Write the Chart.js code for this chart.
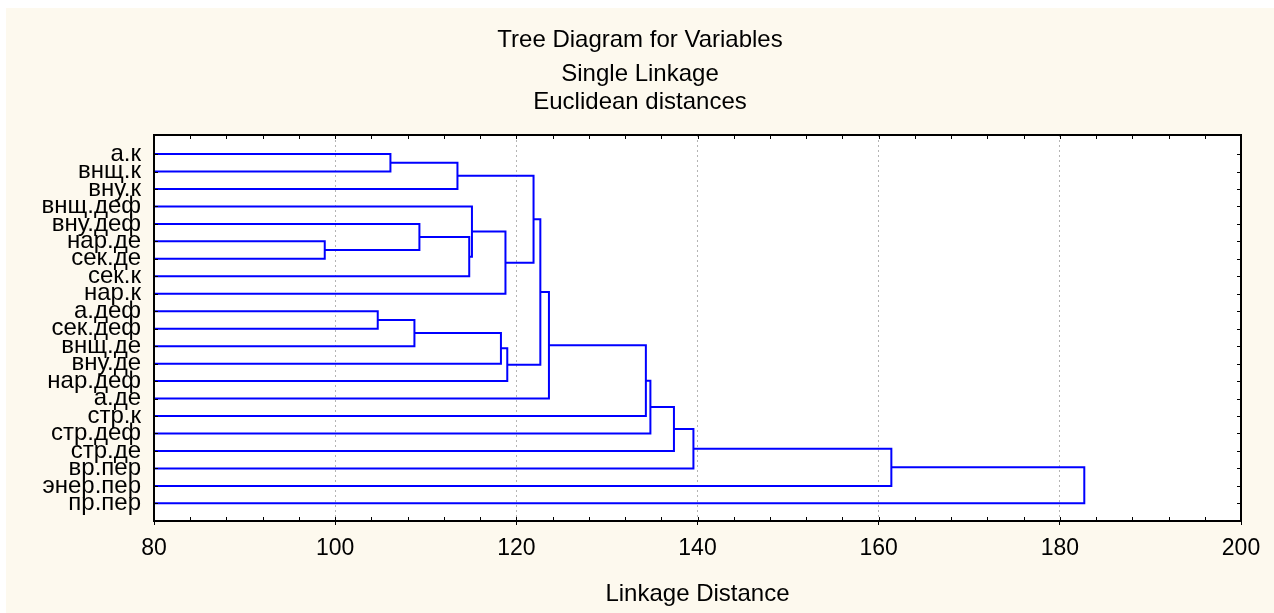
<!DOCTYPE html>
<html>
<head>
<meta charset="utf-8">
<script src="https://cdn.jsdelivr.net/npm/chart.js@4.4.1/dist/chart.umd.min.js"></script>
<style>
  html, body { margin: 0; padding: 0; background: #fff; }
</style>
</head>
<body>
<canvas id="treeChart" width="1274" height="613"></canvas>
<script>
// leaves, top to bottom
const leafLabels = ['а.к', 'внщ.к', 'вну.к', 'внщ.деф', 'вну.деф', 'нар.де', 'сек.де', 'сек.к', 'нар.к',
  'а.деф', 'сек.деф', 'внщ.де', 'вну.де', 'нар.деф', 'а.де', 'стр.к', 'стр.деф', 'стр.де',
  'вр.пер', 'энер.пер', 'пр.пер'];

// merge steps: ids < 21 are leaves, step k makes cluster id 21 + k
const mergeLeft   = [0, 21, 5, 4, 24, 3, 26, 22, 9, 29, 30, 31, 28, 33, 34, 35, 36, 37, 38, 39];
const mergeRight  = [1, 2, 6, 23, 7, 25, 8, 27, 10, 11, 12, 13, 32, 14, 15, 16, 17, 18, 19, 20];
const mergeHeight = [106.1, 113.5, 98.85, 109.3, 114.8, 115.1, 118.8, 121.9, 104.7, 108.75,
  118.3, 119.0, 122.65, 123.6, 134.3, 134.8, 137.4, 139.55, 161.4, 182.7];

const xTicks = [80, 100, 120, 140, 160, 180, 200];
const minorStep = 4;

const titleText = 'Tree Diagram for Variables';
const subtitleLines = ['Single Linkage', 'Euclidean distances'];
const axisTitle = 'Linkage Distance';

const FONT = "'Liberation Sans', Arial, sans-serif";

// walk the merges, each one is a U shaped link
const nodeY = leafLabels.map((_, i) => i);
const nodeX = leafLabels.map(() => xTicks[0]);
const links = mergeHeight.map((h, k) => {
  const a = mergeLeft[k], b = mergeRight[k];
  const pts = [
    { x: nodeX[a], y: nodeY[a] },
    { x: h, y: nodeY[a] },
    { x: h, y: nodeY[b] },
    { x: nodeX[b], y: nodeY[b] }
  ];
  nodeX.push(h);
  nodeY.push((nodeY[a] + nodeY[b]) / 2);
  return {
    data: pts,
    showLine: true,
    borderColor: '#0000ff',
    borderWidth: 2,
    borderJoinStyle: 'miter',
    pointRadius: 0,
    fill: false,
    tension: 0
  };
});

// background + frame with inward ticks
const framePlugin = {
  id: 'frame',
  beforeDraw(chart) {
    const { ctx, width, height, chartArea: a } = chart;
    ctx.save();
    ctx.fillStyle = '#ffffff';
    ctx.fillRect(0, 0, width, height);
    ctx.fillStyle = '#fdf9ee';
    ctx.fillRect(6, 8, width - 6, height - 8);
    ctx.fillStyle = '#ffffff';
    ctx.fillRect(a.left, a.top, a.right - a.left, a.bottom - a.top);
    ctx.restore();
  },
  afterDraw(chart) {
    const { ctx, chartArea: a, scales: { x, y } } = chart;
    ctx.save();
    ctx.strokeStyle = '#000';
    ctx.lineWidth = 1;
    ctx.beginPath();
    for (let v = xTicks[0] + minorStep; v < xTicks[xTicks.length - 1]; v += minorStep) {
      const px = Math.round(x.getPixelForValue(v)) + 0.5;
      ctx.moveTo(px, a.top); ctx.lineTo(px, a.top + 4);
      ctx.moveTo(px, a.bottom); ctx.lineTo(px, a.bottom - 4);
    }
    leafLabels.forEach((_, i) => {
      const py = Math.round(y.getPixelForValue(i)) + 0.5;
      ctx.moveTo(a.left, py); ctx.lineTo(a.left + 4, py);
      ctx.moveTo(a.right, py); ctx.lineTo(a.right - 4, py);
    });
    ctx.stroke();
    ctx.lineWidth = 2;
    ctx.strokeRect(a.left, a.top, a.right - a.left, a.bottom - a.top);
    ctx.restore();
  }
};

const ctx = document.getElementById('treeChart').getContext('2d');
const treeChart = new Chart(ctx, {
  type: 'scatter',
  data: { datasets: links },
  options: {
    responsive: false,
    animation: false,
    events: [],
    layout: { padding: { left: 6, right: 0, top: 0, bottom: 0 } },
    plugins: {
      legend: { display: false },
      tooltip: { enabled: false },
      title: {
        display: true,
        text: titleText,
        color: '#000',
        font: { family: FONT, size: 24, weight: 'normal', lineHeight: 1.2 },
        padding: { top: 26.1, bottom: 0 }
      },
      subtitle: {
        display: true,
        text: subtitleLines,
        color: '#000',
        font: { family: FONT, size: 24, weight: 'normal', lineHeight: '27.3px' },
        padding: { top: 6.15, bottom: 19.35 }
      }
    },
    scales: {
      x: {
        type: 'linear',
        min: 80,
        max: 200,
        afterBuildTicks: s => { s.ticks = xTicks.map(v => ({ value: v })); },
        afterFit: s => { s.height = 92; s.paddingLeft = 0; s.paddingRight = 33; },
        ticks: { color: '#000', font: { family: FONT, size: 23 }, padding: 10, maxRotation: 0 },
        grid: {
          color: c => (c.tick && (c.tick.value === 80 || c.tick.value === 200)) ? 'rgba(0,0,0,0)' : '#b4b4b4',
          lineWidth: 1,
          tickColor: '#000',
          tickLength: 4,
          tickWidth: 1
        },
        border: { display: false, dash: [2, 3] },
        title: {
          display: true,
          text: axisTitle,
          color: '#000',
          font: { family: FONT, size: 24 },
          padding: { top: 0, bottom: 4.6 }
        }
      },
      y: {
        type: 'linear',
        reverse: true,
        min: -1.09,
        max: 21.01,
        afterBuildTicks: s => { s.ticks = leafLabels.map((_, i) => ({ value: i })); },
        afterFit: s => { s.width = 148; },
        ticks: {
          autoSkip: false,
          color: '#000',
          font: { family: FONT, size: 24 },
          padding: 13,
          callback: (v, i) => leafLabels[i]
        },
        grid: { display: false, drawTicks: false },
        border: { display: false }
      }
    }
  },
  plugins: [framePlugin]
});
</script>
</body>
</html>
